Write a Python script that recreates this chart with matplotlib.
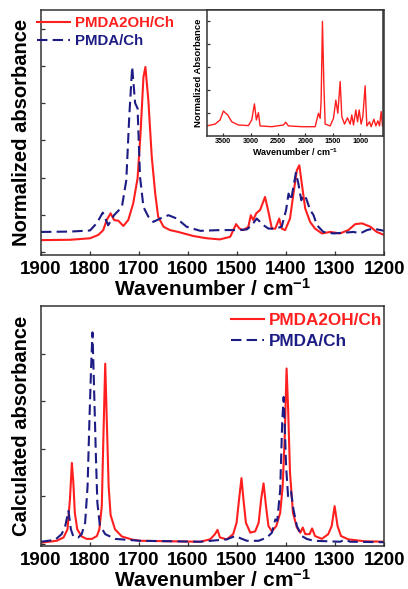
import matplotlib.pyplot as plt

plt.rcParams['font.family'] = ['Liberation Sans', 'DejaVu Sans']
plt.rcParams['font.weight'] = 'bold'
plt.rcParams['mathtext.fontset'] = 'custom'
plt.rcParams['mathtext.rm'] = 'Liberation Sans:bold'
plt.rcParams['mathtext.bf'] = 'Liberation Sans:bold'
plt.rcParams['mathtext.default'] = 'rm'

RED = '#ff1f1f'
BLUE = '#1c1c84'

# --- top panel: measured spectra (wavenumber, normalized absorbance) ---
exp_oh_wn = [1900, 1840, 1800, 1783, 1773, 1766, 1758, 1751, 1742, 1732, 1722, 1712,
             1703, 1697, 1691, 1687, 1681, 1674, 1667, 1661, 1650, 1637, 1620, 1589,
             1562, 1535, 1514, 1502, 1495, 1487, 1477, 1472, 1467, 1461, 1453, 1443,
             1436, 1429, 1422, 1414, 1409, 1402, 1392, 1385, 1378, 1373, 1368, 1361,
             1351, 1341, 1327, 1310, 1290, 1273, 1259, 1245, 1228, 1215, 1200]
exp_oh_abs = [0.32, 0.33, 0.37, 0.46, 0.59, 0.86, 1.04, 0.86, 0.84, 0.70, 0.86, 1.30,
              1.98, 3.18, 4.70, 4.97, 4.07, 2.55, 1.57, 0.95, 0.68, 0.59, 0.54, 0.43,
              0.37, 0.34, 0.41, 0.75, 0.63, 0.59, 0.68, 0.99, 0.86, 1.04, 1.13, 1.48,
              1.08, 0.63, 0.63, 0.90, 0.63, 0.59, 0.90, 1.57, 2.20, 2.33, 1.84, 1.17,
              0.81, 0.63, 0.50, 0.54, 0.50, 0.59, 0.75, 0.77, 0.68, 0.54, 0.46]

exp_pm_wn = [1900, 1840, 1800, 1786, 1774, 1763, 1751, 1735, 1726, 1720, 1714, 1708,
             1703, 1698, 1691, 1681, 1671, 1657, 1640, 1623, 1603, 1575, 1535, 1494,
             1480, 1470, 1460, 1453, 1446, 1436, 1422, 1409, 1400, 1395, 1390, 1385,
             1380, 1375, 1369, 1365, 1359, 1351, 1344, 1337, 1324, 1303, 1283, 1262,
             1249, 1235, 1222, 1200]
exp_pm_abs = [0.54, 0.55, 0.58, 0.78, 1.06, 0.72, 0.99, 1.21, 1.93, 3.63, 4.97, 4.00,
              3.86, 2.02, 1.21, 0.95, 0.81, 0.90, 0.99, 0.90, 0.68, 0.57, 0.59, 0.59,
              0.61, 0.72, 0.90, 0.81, 0.72, 0.63, 0.63, 0.68, 1.13, 1.57, 1.39, 1.75,
              2.13, 1.84, 1.39, 1.53, 1.44, 1.13, 0.99, 0.72, 0.54, 0.50, 0.52, 0.54,
              0.50, 0.59, 0.63, 0.57]

# --- inset: full-range PMDA2OH/Ch spectrum ---
ins_wn = [3800, 3647, 3556, 3495, 3465, 3416, 3343, 3222, 3039, 2979, 2930, 2894,
          2857, 2827, 2614, 2401, 2359, 2310, 2067, 1823, 1763, 1732, 1714, 1690,
          1665, 1641, 1550, 1489, 1446, 1410, 1367, 1337, 1288, 1234, 1185, 1155,
          1124, 1082, 1051, 1021, 985, 954, 912, 881, 832, 802, 753, 717, 680, 650,
          620, 595]
ins_abs = [0.084, 0.10, 0.136, 0.215, 0.20, 0.18, 0.12, 0.092, 0.087, 0.136, 0.277, 0.136,
           0.20, 0.084, 0.077, 0.092, 0.116, 0.084, 0.077, 0.077, 0.195, 0.15, 0.31, 1.0,
           0.46, 0.10, 0.084, 0.15, 0.31, 0.195, 0.473, 0.165, 0.10, 0.155, 0.10, 0.18,
           0.092, 0.224, 0.12, 0.224, 0.10, 0.165, 0.435, 0.084, 0.12, 0.077, 0.143, 0.084,
           0.128, 0.084, 0.21, 0.084]

# --- bottom panel: calculated spectra ---
calc_oh_wn = [1900, 1868, 1854, 1846, 1841, 1837, 1834, 1831, 1826, 1817, 1807, 1796,
              1786, 1781, 1776, 1773, 1769, 1766, 1762, 1758, 1749, 1735, 1712, 1698,
              1575, 1555, 1545, 1540, 1535, 1521, 1508, 1501, 1496, 1491, 1487, 1482,
              1473, 1463, 1456, 1451, 1446, 1441, 1436, 1429, 1420, 1412, 1407, 1403,
              1399, 1396, 1392, 1386, 1378, 1371, 1366, 1361, 1352, 1347, 1341, 1327,
              1314, 1307, 1301, 1295, 1288, 1273, 1240, 1200]
calc_oh_abs = [0.02, 0.06, 0.13, 0.30, 0.93, 1.70, 1.28, 0.65, 0.30, 0.15, 0.10, 0.10,
               0.16, 0.30, 0.79, 2.12, 3.79, 2.67, 1.21, 0.60, 0.30, 0.15, 0.08, 0.06,
               0.04, 0.09, 0.20, 0.29, 0.13, 0.09, 0.20, 0.44, 0.93, 1.38, 0.93, 0.44,
               0.23, 0.26, 0.44, 0.93, 1.27, 0.79, 0.37, 0.26, 0.37, 0.65, 1.21, 2.19,
               3.69, 2.88, 1.49, 0.65, 0.34, 0.23, 0.34, 0.20, 0.20, 0.32, 0.16, 0.10,
               0.20, 0.37, 0.79, 0.37, 0.16, 0.09, 0.05, 0.04]

calc_pm_wn = [1900, 1871, 1858, 1851, 1844, 1839, 1834, 1824, 1817, 1810, 1805, 1801,
              1798, 1795, 1792, 1788, 1785, 1780, 1769, 1749, 1698, 1575, 1521, 1504,
              1490, 1480, 1456, 1439, 1429, 1422, 1418, 1412, 1408, 1405, 1403, 1400,
              1396, 1390, 1385, 1378, 1368, 1358, 1344, 1290, 1280, 1269, 1200]
calc_pm_abs = [0.04, 0.08, 0.20, 0.35, 0.69, 0.30, 0.15, 0.13, 0.20, 0.44, 1.21, 2.67,
               3.65, 4.45, 3.37, 1.84, 0.86, 0.39, 0.20, 0.10, 0.06, 0.04, 0.09, 0.16,
               0.10, 0.06, 0.06, 0.13, 0.23, 0.51, 0.48, 1.14, 2.54, 3.09, 2.54, 1.63,
               1.00, 1.10, 0.72, 0.37, 0.16, 0.10, 0.06, 0.04, 0.08, 0.04, 0.03]

wn_ticks = [1900, 1800, 1700, 1600, 1500, 1400, 1300, 1200]
ins_ticks = [3500, 3000, 2500, 2000, 1500, 1000]

fig = plt.figure(figsize=(4.08, 5.89), dpi=100)
ax1 = fig.add_axes([0.1005, 0.567, 0.841, 0.416])
ax2 = fig.add_axes([0.1005, 0.073, 0.841, 0.407])
axin = fig.add_axes([0.5066, 0.769, 0.433, 0.214])

dash = (5, 2.5)
xlab = 'Wavenumber / cm$^{-1}$'

def style(ax, size):
    for s in ax.spines.values():
        s.set_color('#333333')
        s.set_linewidth(1.1)
    ax.tick_params(direction='in', labelsize=size, color='#333333', length=3, width=0.9)
    ax.set_yticklabels([])

# top panel
ax1.plot(exp_oh_wn, exp_oh_abs, color=RED, lw=1.5, label='PMDA2OH/Ch')
ax1.plot(exp_pm_wn, exp_pm_abs, color=BLUE, lw=1.5, dashes=dash, label='PMDA/Ch')
ax1.set_xlim(1900, 1200)
ax1.set_ylim(-0.08, 6.5)
ax1.set_xticks(wn_ticks)
ax1.set_yticks(range(7))
style(ax1, 13.5)
ax1.tick_params(axis='x', pad=4)
ax1.set_xlabel(xlab, fontsize=15, fontweight='bold', labelpad=0)
ax1.set_ylabel('Normalized absorbance', fontsize=14.5, fontweight='bold', labelpad=4)
ax1.legend(loc='upper left', bbox_to_anchor=(-0.012, 0.975), frameon=False,
           fontsize=10.8, handlelength=2.2, handletextpad=0.35, labelspacing=0.25,
           borderaxespad=0, borderpad=0, labelcolor='linecolor')

# inset
axin.plot(ins_wn, ins_abs, color=RED, lw=1.0)
axin.set_xlim(3800, 580)
axin.set_ylim(-0.005, 1.1)
axin.set_xticks(ins_ticks)
axin.set_yticks([0.2, 0.4, 0.6, 0.8, 1.0])
axin.set_facecolor('white')
style(axin, 5.2)
axin.tick_params(length=2, pad=1.5)
axin.set_xlabel(xlab, fontsize=6.5, fontweight='bold', labelpad=0.5)
axin.set_ylabel('Normalized Absorbance', fontsize=6.8, fontweight='bold', labelpad=1)

# bottom panel
ax2.plot(calc_oh_wn, calc_oh_abs, color=RED, lw=1.5, label='PMDA2OH/Ch')
ax2.plot(calc_pm_wn, calc_pm_abs, color=BLUE, lw=1.5, dashes=dash, label='PMDA/Ch')
ax2.set_xlim(1900, 1200)
ax2.set_ylim(-0.05, 5.0)
ax2.set_xticks(wn_ticks)
ax2.set_yticks(range(5))
style(ax2, 13.5)
ax2.tick_params(axis='x', pad=4)
ax2.set_xlabel(xlab, fontsize=15, fontweight='bold', labelpad=0)
ax2.set_ylabel('Calculated absorbance', fontsize=14.5, fontweight='bold', labelpad=4)
ax2.legend(loc='upper right', bbox_to_anchor=(0.995, 0.97), frameon=False,
           fontsize=12.3, handlelength=1.9, handletextpad=0.3, labelspacing=0.3,
           borderaxespad=0, borderpad=0, labelcolor='linecolor')

fig.savefig('out.png', dpi=100)
